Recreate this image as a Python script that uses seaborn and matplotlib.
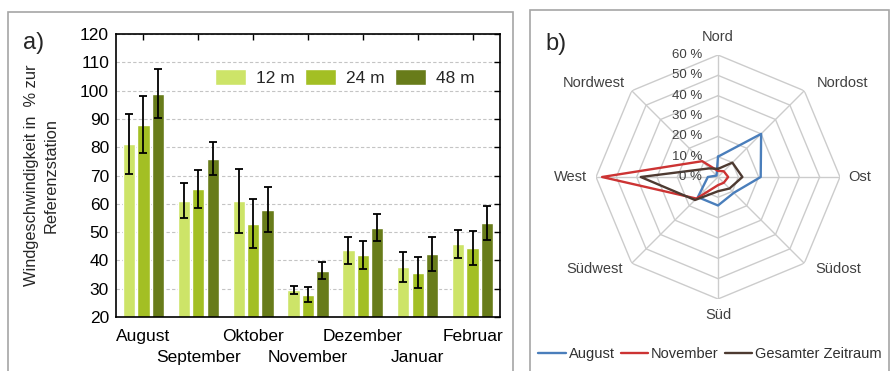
import numpy as np
import pandas as pd
import matplotlib
matplotlib.use("Agg")
import matplotlib.pyplot as plt
import seaborn as sns
from matplotlib.patches import Rectangle

sns.set_style("white")
plt.rcParams['font.family'] = ['Liberation Sans', 'DejaVu Sans']

# a) Windgeschwindigkeit in % zur Referenzstation
months = ["August", "September", "Oktober", "November", "Dezember", "Januar", "Februar"]
heights = ["12 m", "24 m", "48 m"]
mean_12 = [81.2, 61.1, 61.1, 29.7, 43.6, 37.5, 45.8]
mean_24 = [88.0, 65.3, 53.0, 27.9, 42.0, 35.7, 44.4]
mean_48 = [98.9, 75.9, 57.9, 36.4, 51.6, 42.4, 53.2]
err_12 = [10.5, 6.2, 11.3, 1.4, 4.7, 5.3, 5.0]
err_24 = [10.2, 6.7, 8.7, 2.7, 5.0, 5.4, 5.9]
err_48 = [8.6, 5.8, 7.9, 3.0, 4.9, 6.0, 5.9]
bar_colors = ["#cde468", "#a3bf24", "#687c1a"]

# b) Windrichtungsverteilung
directions = ["Nord", "Nordost", "Ost", "Südost", "Süd", "Südwest", "West", "Nordwest"]
rose_aug = [10, 30, 21, 11, 14, 14, 5, 1]
rose_nov = [3, 4, 5, 4, 4, 15, 57, 11]
rose_all = [4, 10, 12, 8, 7, 16, 38, 6]
rose_ticks = [0, 10, 20, 30, 40, 50, 60]
rose_names = ["August", "November", "Gesamter Zeitraum"]
rose_colors = ["#4a7ebb", "#cc3333", "#4d3a31"]

df = pd.DataFrame({
    "Monat": months * 3,
    "Höhe": [h for h in heights for _ in months],
    "Wert": mean_12 + mean_24 + mean_48,
})
errors = [err_12, err_24, err_48]

W, H = 891, 371
fig = plt.figure(figsize=(W / 100, H / 100), dpi=100)

# panel frames
fig.add_artist(Rectangle((8 / W, -0.05), 505 / W, 1.05 - 12 / H, transform=fig.transFigure,
                         fill=False, ec="#a6a6a6", lw=1.2))
fig.add_artist(Rectangle((530 / W, -0.05), 359 / W, 1.05 - 10 / H, transform=fig.transFigure,
                         fill=False, ec="#a6a6a6", lw=1.2))

# ---- bar chart ----
ax = fig.add_axes([116 / W, 54 / H, 384 / W, 283 / H])
sns.barplot(data=df, x="Monat", y="Wert", hue="Höhe", palette=bar_colors, saturation=1,
            errorbar=None, width=0.79, gap=0.15, ax=ax)
for cont, err in zip(ax.containers, errors):
    xs = [b.get_x() + b.get_width() / 2 for b in cont]
    ys = [b.get_height() for b in cont]
    ax.errorbar(xs, ys, yerr=err, fmt="none", ecolor="black", elinewidth=1.3,
                capsize=3.2, capthick=1.3)

ax.set_ylim(20, 120)
ax.set_xlim(-0.5, 6.5)
ax.set_yticks(range(20, 121, 10))
ax.set_xticks(range(len(months)))
ax.set_xticklabels(months)
ax.tick_params(direction="in", top=True, right=True, length=4, width=1,
               labelsize=12.5, pad=5, colors="black")
# alternate month labels on two rows
for i, tick in enumerate(ax.xaxis.get_major_ticks()):
    tick.set_pad(23.5 if i % 2 == 1 else 8.5)
ax.yaxis.grid(True, color="#c4c4c4", ls=(0, (3, 2)), lw=0.8)
ax.set_axisbelow(True)
for s in ax.spines.values():
    s.set_color("black")
    s.set_linewidth(1.2)
ax.set_xlabel("")
ax.set_ylabel("Windgeschwindigkeit in  % zur\nReferenzstation", fontsize=11.8,
              va="center", linespacing=1.35)
ax.yaxis.set_label_coords(-0.194, 0.5)

handles, labels = ax.get_legend_handles_labels()
ax.legend(handles, labels, ncol=3, loc="center", bbox_to_anchor=(0.596, 0.845),
          frameon=False, fontsize=12.5, handlelength=1.8, handleheight=1.03,
          handletextpad=0.57, columnspacing=0.57)

fig.text(23 / W, 1 - 49 / H, "a)", fontsize=17, ha="left", va="baseline")
fig.text(545 / W, 1 - 50 / H, "b)", fontsize=17, ha="left", va="baseline")

# ---- radar chart ----
axp = fig.add_axes([596 / W, 72 / H, 244 / W, 244 / H], projection="polar")
axp.set_theta_offset(np.pi / 2)
axp.set_theta_direction(-1)
axp.set_ylim(0, 60)
axp.grid(False)
axp.spines["polar"].set_visible(False)
axp.set_xticks([])
axp.set_yticks([])
axp.patch.set_alpha(0)

angles = np.arange(len(directions)) * 2 * np.pi / len(directions)
closed = np.append(angles, angles[0])
for r in rose_ticks[1:]:
    axp.plot(closed, [r] * len(closed), color="#cccccc", lw=1, zorder=1)
for a in angles:
    axp.plot([a, a], [0, rose_ticks[-1]], color="#cccccc", lw=1, zorder=1)

lines = []
for vals, name, col in zip([rose_aug, rose_nov, rose_all], rose_names, rose_colors):
    ln, = axp.plot(closed, vals + vals[:1], color=col, lw=1.7, label=name, zorder=3)
    lines.append(ln)

for t in rose_ticks:
    axp.annotate(f"{t} %", xy=(0, t), xytext=(-16, 0), textcoords="offset pixels",
                 ha="right", va="center", fontsize=9.5, color="#404040", zorder=4)

label_offsets = [(0, 18), (38, 8), (20, 0), (34, -6), (0, -16), (-37, -6), (-26, 0), (-38, 8)]
for a, name, off in zip(angles, directions, label_offsets):
    axp.annotate(name, xy=(a, rose_ticks[-1]), xytext=off, textcoords="offset pixels",
                 ha="center", va="center", fontsize=10.5, color="#404040",
                 annotation_clip=False)

fig.legend(lines, rose_names, loc="center", bbox_to_anchor=(710 / W, 1 - 354 / H), ncol=3,
           frameon=False, fontsize=10.5, handlelength=1.9, handletextpad=0.2,
           columnspacing=0.4, labelcolor="#303030")

fig.savefig("out.png", dpi=100)
